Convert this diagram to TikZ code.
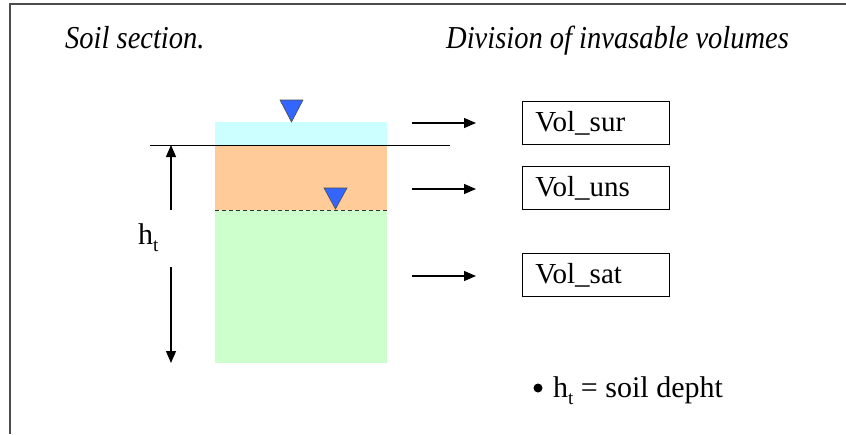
\documentclass[tikz,border=0pt]{standalone}
\usepackage{fontspec}
\setmainfont{Liberation Serif}
\newfontfamily\volfont{Liberation Serif}
\usetikzlibrary{arrows.meta}
\definecolor{surcyan}{RGB}{204,255,255}
\definecolor{unsorange}{RGB}{255,204,153}
\definecolor{satgreen}{RGB}{204,255,204}
\definecolor{wtblue}{RGB}{51,102,255}

\begin{document}
\begin{tikzpicture}[
  x=1pt, y=-1pt, >={Triangle[length=12pt,width=10pt]},
  ttl/.style={font=\volfont\fontsize{28.5}{30}\selectfont\itshape, anchor=base west,
              inner sep=0pt, yscale=1.12},
  vol/.style={draw, line width=0.9pt, anchor=north west, minimum height=43pt,
              text width=121pt, inner xsep=13pt, inner ysep=0pt, align=left,
              font=\volfont\fontsize{29}{30}\selectfont},
  varr/.style={->, line width=1.1pt},
  wt/.style={draw=black!70, fill=wtblue, line width=0.6pt},
  lbl/.style={font=\volfont\fontsize{30}{32}\selectfont, anchor=base west, inner sep=0pt}
]
\useasboundingbox (0,0) rectangle (846,434);

%% Frame
\draw[line width=1.2pt, black!70] (10,434) -- (10,4) -- (846,4);

%% Titles
\node[ttl] (soiltitle) at (65,48)  {Soil section.};
\node[ttl] (divtitle)  at (446,48) {Division of invasable volumes};

%% Soil layers
\fill[surcyan]   (215,122) rectangle (387,145);
\fill[unsorange] (215,145) rectangle (387,210);
\fill[satgreen]  (215,210) rectangle (387,363);
\draw[dash pattern=on 4pt off 3pt, line width=1pt, black!80] (215,210) -- (387,210);
\draw[line width=1pt] (150,145) -- (450,145);

%% Water tables
\draw[wt] (280,100) -- (303,100) -- (291.5,122) -- cycle;
\draw[wt] (324,188) -- (347,188) -- (335.5,209) -- cycle;

%% Soil depth
\coordinate (htop) at (171,145);
\coordinate (hbot) at (171,363);
\node[lbl] (htlabel) at (138,244) {h\raisebox{-7pt}{\fontsize{19}{19}\selectfont t}};
\draw[varr] (171,210) -- (htop);
\draw[varr] (171,267) -- (hbot);

%% Invasable volumes
\node[vol] (sur) at (522,101) {Vol\_sur};
\node[vol] (uns) at (522,166) {Vol\_uns};
\node[vol] (sat) at (522,253) {Vol\_sat};

\coordinate (asur) at (412,123);
\coordinate (auns) at (412,189);
\coordinate (asat) at (412,276);
\draw[varr] (asur) -- ++(64,0);
\draw[varr] (auns) -- ++(64,0);
\draw[varr] (asat) -- ++(64,0);

%% Legend
\fill (538,388) circle (4.5);
\node[lbl] (legend) at (553,397) {h\raisebox{-7pt}{\fontsize{19}{19}\selectfont t} = soil depht};

\end{tikzpicture}
\end{document}
